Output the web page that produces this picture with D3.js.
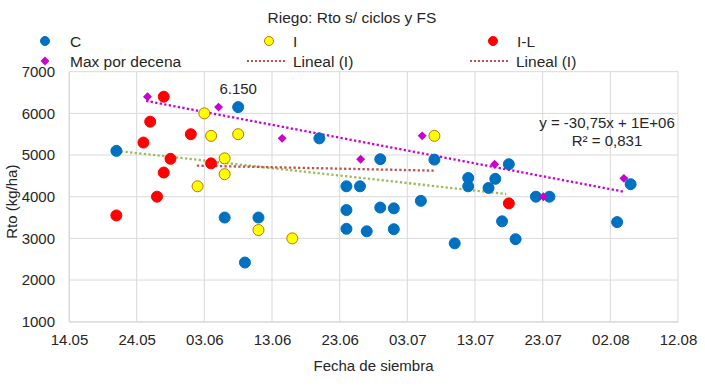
<!DOCTYPE html>
<html>
<head>
<meta charset="utf-8">
<script src="https://cdn.jsdelivr.net/npm/d3@7"></script>
<style>
    body { margin: 0; background: #fff; }
    text { font-family: "Liberation Sans", Arial, sans-serif; fill: #262626; }
</style>
</head>
<body>
<div id="chart"></div>
<script>
// days counted from 14.05
const xTickValues = [0, 10, 20, 30, 40, 50, 60, 70, 80, 90];
const xTickLabels = ["14.05", "24.05", "03.06", "13.06", "23.06", "03.07", "13.07", "23.07", "02.08", "12.08"];
const yTickValues = [1000, 2000, 3000, 4000, 5000, 6000, 7000];

const cDays = [7, 25, 28, 23, 26, 37, 41, 43, 41, 41, 44, 46, 46, 48, 48, 52, 54, 57, 59, 59, 62, 63, 65, 64, 66, 69, 71, 81, 83];
const cYield = [5100, 6150, 3500, 3500, 2420, 5400, 4250, 4250, 3680, 3230, 3170, 4900, 3740, 3720, 3220, 3900, 4890, 2880, 4450, 4250, 4210, 4430, 4780, 3410, 2980, 4000, 4000, 3390, 4300];

const iDays = [20, 21, 25, 23, 23, 19, 28, 33, 54];
const iYield = [6000, 5460, 5500, 4920, 4540, 4250, 3200, 3000, 5460];

const ilDays = [14, 12, 18, 11, 15, 21, 14, 13, 7, 65];
const ilYield = [6400, 5800, 5500, 5300, 4910, 4800, 4580, 4000, 3550, 3840];

const maxDays = [11.6, 22.1, 31.5, 43.1, 52.2, 62.9, 70.1, 82.0];
const maxYield = [6400, 6150, 5400, 4900, 5460, 4780, 4000, 4440];

// trendline end points
const maxTrendDays = [11.4, 82.0];
const maxTrendYield = [6300, 4120];
const greenTrendDays = [7, 64.6];
const greenTrendYield = [5100, 4065];
const redTrendDays = [18.9, 54];
const redTrendYield = [4745, 4625];

const zip = (xs, ys) => xs.map((x, i) => ({ x: x, y: ys[i] }));

const margin = { top: 71.7, right: 27, bottom: 67.3, left: 69 },
    width = 705 - margin.left - margin.right,
    height = 389 - margin.top - margin.bottom;

const svgContainer = d3.select("#chart").append("svg")
    .attr("width", 705)
    .attr("height", 389);

const svg = svgContainer.append("g")
    .attr("transform", `translate(${margin.left},${margin.top})`);

const x = d3.scaleLinear().domain([0, 90]).range([0, width]);
const y = d3.scaleLinear().domain([1000, 7000]).range([height, 0]);

// grid
svg.append("g")
    .selectAll("line")
    .data(yTickValues)
    .enter().append("line")
    .attr("x1", 0).attr("x2", width)
    .attr("y1", d => y(d)).attr("y2", d => y(d))
    .attr("stroke", "#d9d9d9").attr("stroke-width", 1);

svg.append("g")
    .selectAll("line")
    .data(xTickValues)
    .enter().append("line")
    .attr("x1", d => x(d)).attr("x2", d => x(d))
    .attr("y1", 0).attr("y2", height)
    .attr("stroke", "#d9d9d9").attr("stroke-width", 1);

const xAxisGroup = svg.append("g")
    .attr("transform", `translate(0,${height})`)
    .call(d3.axisBottom(x).tickValues(xTickValues).tickFormat((d, i) => xTickLabels[i]).tickSize(0).tickPadding(13));
xAxisGroup.select(".domain").attr("stroke", "#d9d9d9");
xAxisGroup.selectAll("text").style("font-size", "15px").style("fill", "#262626")
    .style("font-family", "'Liberation Sans', Arial, sans-serif");

const yAxisGroup = svg.append("g")
    .call(d3.axisLeft(y).tickValues(yTickValues).tickFormat(d => d).tickSize(0).tickPadding(14));
yAxisGroup.select(".domain").attr("stroke", "#d9d9d9");
yAxisGroup.selectAll("text").style("font-size", "15px").style("fill", "#262626")
    .style("font-family", "'Liberation Sans', Arial, sans-serif");

// axis titles
svgContainer.append("text")
    .attr("transform", "rotate(-90)")
    .attr("x", -(margin.top + height / 2) - 5)
    .attr("y", 17)
    .style("text-anchor", "middle")
    .style("font-size", "15px")
    .text("Rto (kg/ha)");

svgContainer.append("text")
    .attr("x", margin.left + width / 2)
    .attr("y", 371)
    .style("text-anchor", "middle")
    .style("font-size", "15px")
    .text("Fecha de siembra");

svgContainer.append("text")
    .attr("x", 352)
    .attr("y", 23)
    .style("text-anchor", "middle")
    .style("font-size", "15.5px")
    .text("Riego: Rto s/ ciclos y FS");

// trendlines
const line = d3.line().x(d => x(d.x)).y(d => y(d.y));
const drawTrend = (pts, colour) => {
    svg.append("path")
        .datum(pts)
        .attr("d", line)
        .attr("fill", "none")
        .attr("stroke", colour)
        .attr("stroke-width", 2.3)
        .attr("stroke-dasharray", "2.3,2.3");
};
drawTrend(zip(greenTrendDays, greenTrendYield), "#9bbb59");
drawTrend(zip(redTrendDays, redTrendYield), "#c0504d");
drawTrend(zip(maxTrendDays, maxTrendYield), "#cc00cc");

// points
const drawCircles = (pts, fill, stroke) => {
    svg.append("g")
        .selectAll("circle")
        .data(pts)
        .enter().append("circle")
        .attr("cx", d => x(d.x))
        .attr("cy", d => y(d.y))
        .attr("r", 5.5)
        .attr("fill", fill)
        .attr("stroke", stroke)
        .attr("stroke-width", 1);
};
drawCircles(zip(cDays, cYield), "#0070c0", "#0070c0");
drawCircles(zip(iDays, iYield), "#ffff00", "#c07000");
drawCircles(zip(ilDays, ilYield), "#ff0000", "#ff0000");

const diamond = d3.symbol().type(d3.symbolSquare).size(40);
svg.append("g")
    .selectAll("path")
    .data(zip(maxDays, maxYield))
    .enter().append("path")
    .attr("d", diamond)
    .attr("transform", d => `translate(${x(d.x)},${y(d.y)}) rotate(45)`)
    .attr("fill", "#cc00cc");

// labels in plot
svg.append("text")
    .attr("x", x(25))
    .attr("y", y(6150) - 13)
    .style("text-anchor", "middle")
    .style("font-size", "15px")
    .text("6.150");

svgContainer.append("text")
    .attr("x", 607)
    .attr("y", 128)
    .style("text-anchor", "middle")
    .style("font-size", "15px")
    .text("y = -30,75x + 1E+06");

svgContainer.append("text")
    .attr("x", 607)
    .attr("y", 146)
    .style("text-anchor", "middle")
    .style("font-size", "15px")
    .text("R² = 0,831");

// legend
const legendRow1 = [
    { name: "C", x: 45, fill: "#0070c0", stroke: "#0070c0" },
    { name: "I", x: 269, fill: "#ffff00", stroke: "#c07000" },
    { name: "I-L", x: 493, fill: "#ff0000", stroke: "#ff0000" }
];
const legend = svgContainer.append("g");
legendRow1.forEach(item => {
    legend.append("circle")
        .attr("cx", item.x).attr("cy", 41).attr("r", 4.5)
        .attr("fill", item.fill).attr("stroke", item.stroke);
    legend.append("text")
        .attr("x", item.x + (item.name === "C" ? 25 : 24))
        .attr("y", 46.5)
        .style("font-size", "15.5px")
        .text(item.name);
});

legend.append("path")
    .attr("d", diamond)
    .attr("transform", "translate(45,61) rotate(45)")
    .attr("fill", "#cc00cc");
legend.append("text")
    .attr("x", 70).attr("y", 66.5)
    .style("font-size", "15.5px")
    .text("Max por decena");

[247, 470].forEach(x0 => {
    legend.append("line")
        .attr("x1", x0).attr("x2", x0 + 40)
        .attr("y1", 61).attr("y2", 61)
        .attr("stroke", "#c0504d")
        .attr("stroke-width", 2)
        .attr("stroke-dasharray", "2,2");
    legend.append("text")
        .attr("x", x0 + 46).attr("y", 66.5)
        .style("font-size", "15.5px")
        .text("Lineal (I)");
});
</script>
</body>
</html>
